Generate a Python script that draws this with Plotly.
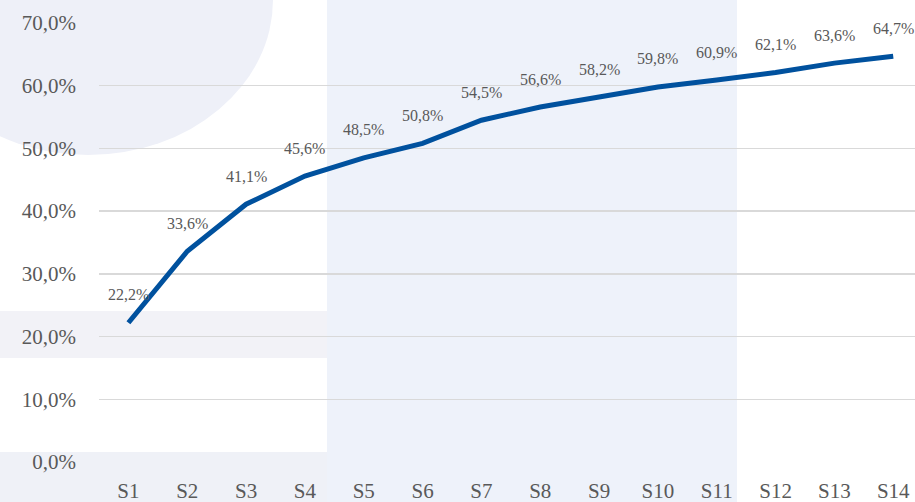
import plotly.graph_objects as go

categories = ["S1", "S2", "S3", "S4", "S5", "S6", "S7", "S8", "S9", "S10", "S11", "S12", "S13", "S14"]
values = [22.2, 33.6, 41.1, 45.6, 48.5, 50.8, 54.5, 56.6, 58.2, 59.8, 60.9, 62.1, 63.6, 64.7]
y_ticks = [0, 10, 20, 30, 40, 50, 60, 70]

W, H = 915, 502
ML, MR, MT, MB = 99, 0, 23, 40
PW, PH = W - ML - MR, H - MT - MB


def px_x(px):
    return (px - ML) / PW


def px_y(py):
    return (H - MB - py) / PH


def fmt(v):
    return f"{v:.1f}%".replace(".", ",")


fig = go.Figure()
fig.add_trace(go.Scatter(
    x=categories, y=values, mode="lines",
    line=dict(color="#00519E", width=5),
    hoverinfo="skip", cliponaxis=False,
))

annotations = [
    dict(x=c, y=v, xref="x", yref="y", text=fmt(v), showarrow=False,
         yshift=28, font=dict(family="Liberation Serif", size=16, color="#595959"))
    for c, v in zip(categories, values)
]

shapes = [
    dict(type="rect", xref="paper", yref="paper", x0=px_x(327), x1=px_x(737),
         y0=px_y(502), y1=px_y(0), fillcolor="#EEF2FA", line_width=0, layer="below"),
    dict(type="circle", xref="paper", yref="paper", x0=px_x(88 - 185), x1=px_x(88 + 185),
         y0=px_y(0 + 155), y1=px_y(0 - 155), fillcolor="#EEF0F8", line_width=0, layer="below"),
    dict(type="rect", xref="paper", yref="paper", x0=px_x(0), x1=px_x(327),
         y0=px_y(358), y1=px_y(311), fillcolor="#F2F2F7", line_width=0, layer="below"),
    dict(type="rect", xref="paper", yref="paper", x0=px_x(0), x1=px_x(327),
         y0=px_y(502), y1=px_y(452), fillcolor="#EFF1F7", line_width=0, layer="below"),
]

fig.update_layout(
    width=W, height=H,
    margin=dict(l=ML, r=MR, t=MT, b=MB, pad=0, autoexpand=False),
    paper_bgcolor="white", plot_bgcolor="rgba(0,0,0,0)",
    showlegend=False,
    annotations=annotations,
    shapes=shapes,
    font=dict(family="Liberation Serif", color="#595959"),
)
fig.update_xaxes(
    type="category", range=[-0.5, 13.37], showgrid=False, zeroline=False,
    showline=False, ticks="", automargin=False, ticklabelstandoff=14,
    tickfont=dict(size=21, color="#595959"),
)
fig.update_yaxes(
    range=[0, 70], tickvals=y_ticks, ticktext=[fmt(t) for t in y_ticks],
    showgrid=True, gridcolor="#D9D9D9", gridwidth=1.5, zeroline=False,
    showline=False, ticks="", ticklabelstandoff=22, automargin=False,
    tickfont=dict(size=21, color="#595959"),
)

fig.write_html(
    "out.html",
    config={"displayModeBar": False, "staticPlot": True},
    post_script="document.body.style.margin='0';document.body.style.overflow='hidden';",
)
